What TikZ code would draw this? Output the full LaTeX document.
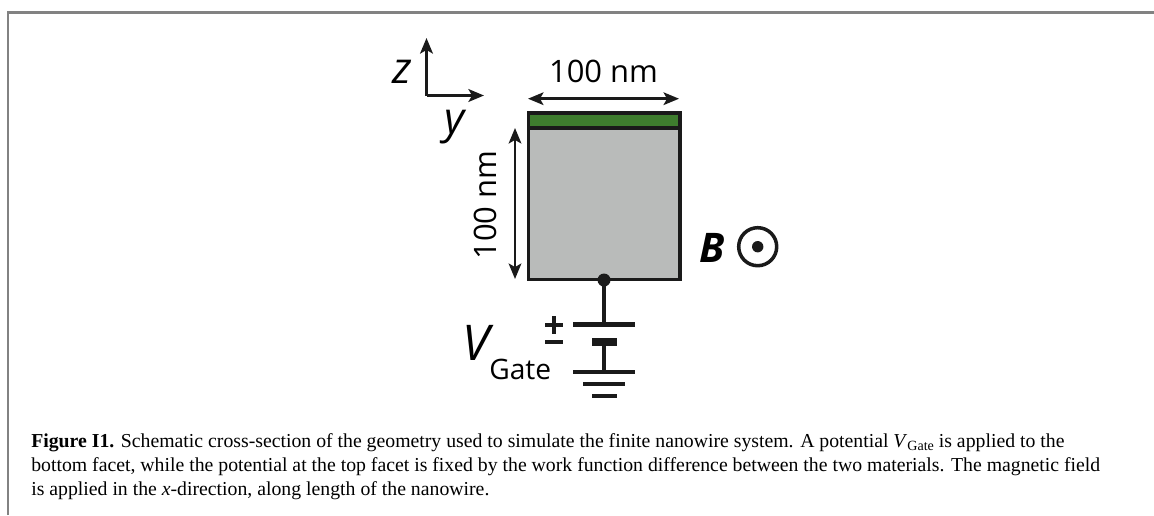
\documentclass[tikz,border=0pt]{standalone}
\usepackage{xcolor}
\usepackage{fontspec}
\usepackage{tikz}
\usetikzlibrary{arrows.meta}
\setmainfont{Liberation Serif}
\newfontfamily\labelfont{Open Sans}
\definecolor{wireblack}{RGB}{26,26,26}
\definecolor{topgreen}{RGB}{62,125,46}
\definecolor{bodygray}{RGB}{185,187,186}
\definecolor{framegray}{RGB}{130,130,130}
\tikzset{
  onetip/.style={wireblack,line width=2.3pt,-{Stealth[length=11pt,width=9pt,inset=2.5pt]}},
  twotip/.style={wireblack,line width=1.8pt,{Stealth[length=11pt,width=9pt,inset=2.5pt]}-{Stealth[length=11pt,width=9pt,inset=2.5pt]}},
  wire/.style={wireblack,line width=2.6pt},
  axislabel/.style={font=\labelfont\itshape\fontsize{31pt}{31pt}\selectfont,inner sep=0pt,anchor=base},
  sizelabel/.style={font=\labelfont\fontsize{22pt}{22pt}\selectfont,inner sep=0pt,anchor=base},
  caption/.style={anchor=base west,inner sep=0pt,font=\fontsize{14.05pt}{15pt}\selectfont}
}

\begin{document}
\begin{tikzpicture}[x=0.025cm,y=-0.025cm]
\useasboundingbox (0,0) rectangle (1154,515);
% Draw the frame
\draw[framegray,line width=1.5pt] (8,515) -- (8,12.5) -- (1154,12.5);
% Draw the nanowire
\fill[bodygray] (528.5,128) rectangle (680,279.5);
\fill[topgreen] (528.5,113) rectangle (680,128);
\draw[wire] (528.5,113) rectangle (680,279.5);
\draw[wire] (528.5,128) -- (680,128);
% Draw the axes
\coordinate (origin) at (426.5,95.5);
\coordinate (ztip) at (426.5,38);
\coordinate (ytip) at (484,95.5);
\draw[onetip] (origin) -- (ztip);
\draw[onetip] (origin) -- (ytip);
\node[axislabel] (zlabel) at (402,83) {z};
\node[axislabel] (ylabel) at (455,133) {y};
% Draw the size arrows
\coordinate (widthl) at (528,98.7);
\coordinate (widthr) at (679,98.7);
\coordinate (heightt) at (515,128);
\coordinate (heightb) at (515,279);
\draw[twotip] (widthl) -- (widthr);
\draw[twotip] (heightt) -- (heightb);
\node[sizelabel] (widthlabel) at (603.5,82) {100 nm};
\node[sizelabel,rotate=90] (heightlabel) at (496.5,205) {100 nm};
% Draw the field
\node[font=\labelfont\bfseries\itshape\fontsize{29pt}{29pt}\selectfont,inner sep=0pt,anchor=base] (fieldlabel) at (712.5,262) {B};
\node[draw=wireblack,line width=2.5pt,circle,minimum size=0.95cm,inner sep=0pt] (fieldring) at (757.7,246.7) {};
\fill[wireblack] (fieldring.center) circle (5.7);
% Draw the gate
\coordinate (contact) at (604,280);
\coordinate (plusplate) at (604,324.5);
\coordinate (minusplate) at (604,342);
\coordinate (groundtop) at (604,371.7);
\fill[wireblack] (contact) circle (6.5);
\draw[wire] (contact) -- (plusplate);
\draw[wire] (minusplate) -- (groundtop);
\draw[wire,line width=3pt] (573,324.5) -- (635,324.5);
\fill[wireblack] (592,338) rectangle (617,346);
\draw[wire,line width=3pt] (573,371.7) -- (635,371.7);
\draw[wire,line width=3pt] (583,384) -- (625,384);
\draw[wire,line width=3pt] (592,396) -- (617,396);
% Draw the sign marks
\draw[wire] (545,325) -- (563,325);
\draw[wire] (554,316) -- (554,334);
\draw[wire] (545,342) -- (563,342);
\node[font=\labelfont\itshape\fontsize{35pt}{35pt}\selectfont,inner sep=0pt,anchor=base] (vlabel) at (476,360) {V};
\node[font=\labelfont\fontsize{20pt}{20pt}\selectfont,inner sep=0pt,anchor=base west] (gatelabel) at (489,379) {Gate};
% Caption
\node[caption] (capone) at (31,447) {\textbf{Figure I1.} Schematic cross-section of the geometry used to simulate the finite nanowire system. A potential \textit{V}\raisebox{-2.5pt}{\fontsize{10pt}{10pt}\selectfont Gate} is applied to the};
\node[caption] (captwo) at (31,471) {bottom facet, while the potential at the top facet is fixed by the work function difference between the two materials. The magnetic field};
\node[caption] (capthree) at (31,495) {is applied in the \textit{x}-direction, along length of the nanowire.};
\end{tikzpicture}
\end{document}
